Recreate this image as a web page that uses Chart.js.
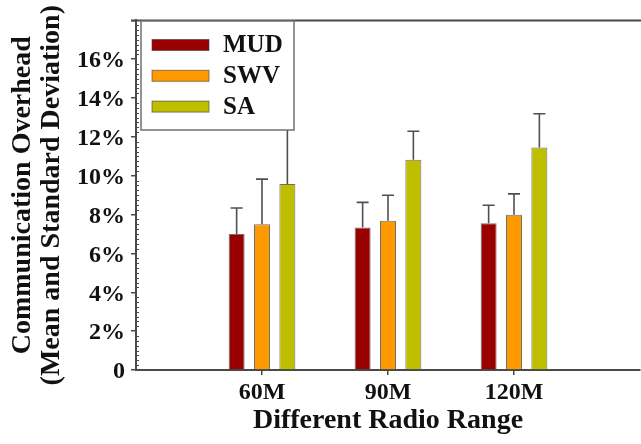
<!DOCTYPE html>
<html><head><meta charset="utf-8">
<script src="https://cdn.jsdelivr.net/npm/chart.js@4.4.0/dist/chart.umd.min.js"></script>
<style>html,body{margin:0;padding:0;overflow:hidden;background:#fff}
#wrap{position:relative;width:643px;height:444px}</style></head>
<body><div id="wrap"><canvas id="c"></canvas></div>
<script>
const categories = ['60M', '90M', '120M'];
const seriesNames = ['MUD', 'SWV', 'SA'];
const mud = [7.0, 7.34, 7.56];
const mudStd = [1.34, 1.29, 0.92];
const swv = [7.51, 7.68, 7.99];
const swvStd = [2.32, 1.32, 1.08];
const sa = [9.58, 10.82, 11.46];
const saStd = [3.8, 1.47, 1.73];
const yTicks = [0, 2, 4, 6, 8, 10, 12, 14, 16, 18];
const yTickLabels = ['0', '2%', '4%', '6%', '8%', '10%', '12%', '14%', '16%', ''];
const colors = ['#990000', '#ff9900', '#bfbf00'];

const FONT = "'Liberation Serif', 'Times New Roman', serif";
const AXIS = '#4a4a4a';
const labels = ['', ...categories, ''];
const pad = a => [null, ...a, null];
const values = [mud, swv, sa];
const stds = [mudStd, swvStd, saStd];

const errorBars = {
  id: 'errorBars',
  afterDatasetsDraw(chart) {
    const ctx = chart.ctx, y = chart.scales.y;
    ctx.save();
    ctx.strokeStyle = '#505050';
    ctx.lineWidth = 1.6;
    chart.data.datasets.forEach((ds, di) => {
      const meta = chart.getDatasetMeta(di);
      meta.data.forEach((bar, i) => {
        const v = ds.data[i];
        if (v == null) return;
        const s = stds[di][i - 1];
        const y0 = y.getPixelForValue(v);
        const y1 = y.getPixelForValue(v + s);
        ctx.beginPath();
        ctx.moveTo(bar.x, y0); ctx.lineTo(bar.x, y1);
        ctx.moveTo(bar.x - 6, y1); ctx.lineTo(bar.x + 6, y1);
        ctx.stroke();
      });
    });
    ctx.restore();
  }
};

const frame = {
  id: 'frame',
  afterDraw(chart) {
    const ctx = chart.ctx, a = chart.chartArea, y = chart.scales.y;
    ctx.save();
    ctx.strokeStyle = AXIS;
    ctx.lineWidth = 2;
    ctx.beginPath();
    ctx.moveTo(a.left - 5, a.top); ctx.lineTo(a.right + 2, a.top);
    ctx.stroke();
    ctx.lineWidth = 1;
    ctx.beginPath();
    for (let v = 0; v < 18; v += 0.25) {
      if (Math.abs(v / 2 - Math.round(v / 2)) < 1e-6) continue;
      const py = Math.round(y.getPixelForValue(v)) + 0.5;
      ctx.moveTo(a.left, py); ctx.lineTo(a.left + 3, py);
    }
    ctx.stroke();
    // legend
    const bx = 141, by = 21, bw = 153, bh = 109;
    ctx.fillStyle = '#fff';
    ctx.fillRect(bx, by, bw, bh);
    ctx.strokeStyle = '#707070';
    ctx.lineWidth = 1.5;
    ctx.strokeRect(bx, by, bw, bh);
    ctx.font = 'bold 25px ' + FONT;
    ctx.textBaseline = 'middle';
    ctx.textAlign = 'left';
    chart.data.datasets.forEach((ds, i) => {
      const cy = 45 + i * 30.8;
      ctx.fillStyle = ds.backgroundColor;
      ctx.fillRect(152, cy - 5.5, 57, 11);
      ctx.strokeStyle = 'rgba(60,60,60,0.6)';
      ctx.lineWidth = 1;
      ctx.strokeRect(152, cy - 5.5, 57, 11);
      ctx.fillStyle = '#111';
      ctx.fillText(ds.label, 223, cy + 1);
    });
    ctx.restore();
  }
};

new Chart(document.getElementById('c'), {
  type: 'bar',
  data: {
    labels,
    datasets: seriesNames.map((n, i) => ({
      label: n,
      data: pad(values[i]),
      backgroundColor: colors[i],
      borderColor: 'rgba(50,50,50,0.7)',
      borderWidth: 1,
      categoryPercentage: 0.604,
      barPercentage: 0.63
    }))
  },
  options: {
    responsive: true,
    maintainAspectRatio: false,
    animation: false,
    layout: { padding: { top: 16, right: 0, left: 0, bottom: 0 } },
    plugins: { legend: { display: false }, tooltip: { enabled: false } },
    scales: {
      x: {
        offset: false,
        afterFit(s) { s.height = 74; },
        grid: {
          offset: false,
          drawOnChartArea: false, drawTicks: true, tickLength: 5,
          color: c => (c.tick && c.tick.label === '') ? 'rgba(0,0,0,0)' : AXIS,
          lineWidth: 1.5
        },
        border: { display: true, color: AXIS, width: 2 },
        ticks: { color: '#111', padding: 3, autoSkip: false, maxRotation: 0,
          font: { family: FONT, weight: 'bold', size: 24 } },
        title: { display: true, text: 'Different Radio Range', color: '#111',
          padding: { top: 0, bottom: 6 },
          font: { family: FONT, weight: 'bold', size: 28 } }
      },
      y: {
        min: 0, max: 18,
        afterFit(s) { s.width = 136; },
        afterBuildTicks(s) { s.ticks = yTicks.map(v => ({ value: v })); },
        grid: { drawOnChartArea: false, drawTicks: true, tickLength: 5, color: AXIS, lineWidth: 1.5 },
        border: { display: true, color: AXIS, width: 2 },
        ticks: { color: '#111', padding: 6, labelOffset: 2,
          callback: (v, i) => yTickLabels[i],
          font: { family: FONT, weight: 'bold', size: 24 } },
        title: { display: true, text: ['Communication Overhead', '(Mean and Standard Deviation)'],
          color: '#111', padding: { top: 8, bottom: 0 },
          font: { family: FONT, weight: 'bold', size: 28, lineHeight: 1.04 } }
      }
    }
  },
  plugins: [errorBars, frame]
});
</script></body></html>
